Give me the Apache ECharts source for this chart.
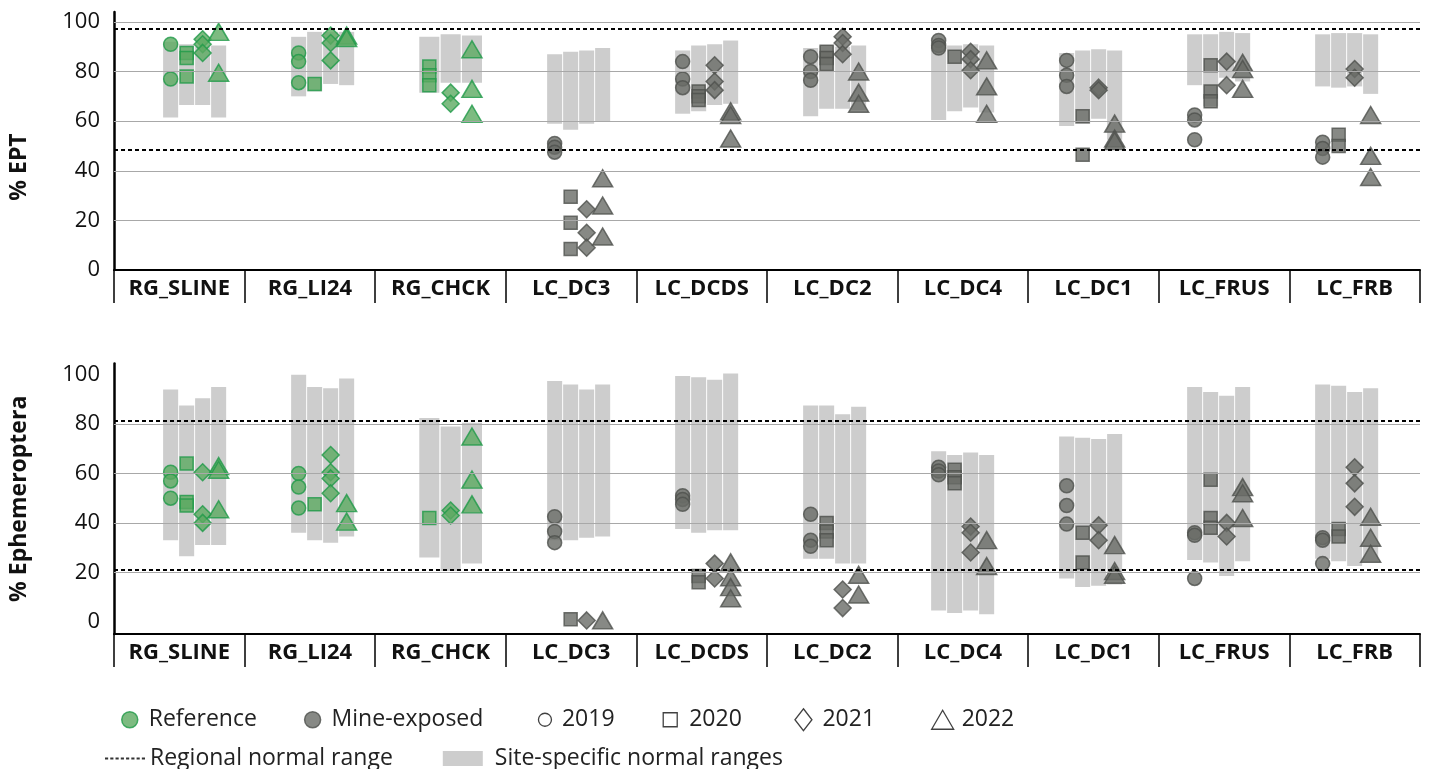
<!DOCTYPE html>
<html>
<head>
<meta charset="utf-8">
<title>% EPT and % Ephemeroptera by site and year</title>
<script src="https://cdn.jsdelivr.net/npm/echarts@6/dist/echarts.min.js"></script>
<style>
  html, body { margin: 0; padding: 0; background: #fff; }
  #chart { width: 1431px; height: 769px; }
</style>
</head>
<body>
<div id="chart"></div>
<script>
// ---- Sites, groups and years ----
const sites = ['RG_SLINE', 'RG_LI24', 'RG_CHCK', 'LC_DC3', 'LC_DCDS', 'LC_DC2', 'LC_DC4', 'LC_DC1', 'LC_FRUS', 'LC_FRB'];
const siteGroup = ['Reference', 'Reference', 'Reference', 'Mine-exposed', 'Mine-exposed',
  'Mine-exposed', 'Mine-exposed', 'Mine-exposed', 'Mine-exposed', 'Mine-exposed'];
const years = ['2019', '2020', '2021', '2022'];
const yTickValues = [0, 20, 40, 60, 80, 100];

// ---- % EPT ----
const eptGridValues = [20, 40, 60, 80, 100];
const eptRegional = [48.5, 97.2];
const ept2019 = [[91, 77], [87.5, 84, 75.5], [], [51, 49.5, 47.5], [84, 77, 73.5], [86, 80, 76.5], [92.5, 90.5, 89.5], [84.5, 78.5, 74], [62.5, 60.5, 52.5], [51.5, 49, 45.5]];
const ept2020 = [[87.5, 85.5, 78], [75], [82, 78.5, 74.5], [29.5, 19, 8.5], [72, 70, 68.5], [88, 85.5, 83], [86], [62, 46.5], [82.5, 72, 68], [54.5, 50]];
const ept2021 = [[93, 91, 87.5], [94.5, 91.5, 84.5], [71.5, 67], [24.5, 15, 9], [82.5, 76, 72.5], [94, 91.5, 87], [88, 85, 80.5], [73.5, 72.5], [84, 74.5], [81, 77.5]];
const ept2022 = [[96, 79.5], [94.5, 93.5], [89, 73, 63], [37, 26, 13.5], [64, 62.5, 53], [80, 71.5, 67], [84.5, 74, 63], [59, 53, 52], [83.5, 81, 73], [62.5, 46, 37.5]];
// site-specific normal ranges [low, high]
const eptRange2019 = [[61.5, 92], [70, 94], null, [59, 87], [63, 88.5], [62, 89.5], [60.5, 90], [58, 87.5], [74.5, 95], [74, 95]];
const eptRange2020 = [[66.5, 91], [72, 96], [71.5, 94], [56.5, 88], [64, 90.5], [65, 90.5], [64, 90.5], [59, 88.5], [66, 95], [73.5, 95.5]];
const eptRange2021 = [[66.5, 90], [75, 96], [75.5, 95], [59, 88.5], [66.5, 91], [65, 90], [65.5, 91], [61, 89], [77.5, 96], [74, 95.5]];
const eptRange2022 = [[61.5, 90.5], [74.5, 96], [75.5, 94.5], [60, 89.5], [67, 92.5], [64.5, 90.5], [63.5, 90.5], [52.5, 88.5], [76, 95.5], [71, 95]];

// ---- % Ephemeroptera ----
const ephGridValues = [20, 40, 60, 80];
const ephRegional = [20.9, 81.5];
const eph2019 = [[60.5, 57, 50], [60, 54.5, 46], [], [42.5, 36.5, 32], [51, 49.5, 47.5], [43.5, 33, 30.5], [62.5, 61, 59.5], [55, 47, 39.5], [36, 35, 17.5], [34, 33, 23.5]];
const eph2020 = [[64, 48.5, 47], [47.5], [42], [1], [18.5, 16], [40, 36.5, 33], [61.5, 58.5, 56], [36, 24], [57.5, 42, 38], [37.5, 34.5]];
const eph2021 = [[60.5, 43.5, 40], [67.5, 60.5, 58, 52], [45, 43], [0.5], [23.5, 17.5], [13, 5.5], [38.5, 36, 28], [39, 33], [40, 34.5], [62.5, 56, 46.5]];
const eph2022 = [[63, 61.5, 45.5], [48, 40.5], [75, 57.5, 47.5], [0.5], [24, 18, 14, 9.5], [19, 11], [33, 22.5], [31, 20.5, 19], [54.5, 52, 42], [42.5, 34, 27.5]];
const ephRange2019 = [[33, 94], [36, 100], null, [33, 97.5], [37.5, 99.5], [25.5, 87.5], [4.5, 69], [17.5, 75], [25, 95], [25.5, 96]];
const ephRange2020 = [[26.5, 87.5], [33, 95], [26, 82.5], [33, 96], [36, 99], [25.5, 87.5], [3.5, 67.5], [14, 74.5], [24, 93], [24.5, 95.5]];
const ephRange2021 = [[31, 90.5], [32, 94.5], [20.5, 79], [34, 94], [37, 98], [23.5, 84], [4.5, 68.5], [14.5, 74], [18.5, 91.5], [22.5, 93]];
const ephRange2022 = [[31, 95], [34.5, 98.5], [23.5, 80.5], [34.5, 96], [37, 100.5], [23.5, 87], [3, 67.5], [15, 76], [24.5, 95], [24.5, 94.5]];

// ---- Styling ----
const FONT = '"Open Sans", "Noto Sans", sans-serif';
const TEXT = '#111';
const FILL = { 'Reference': '#5DAA61', 'Mine-exposed': '#696B67' };
const EDGE = { 'Reference': '#1F9A49', 'Mine-exposed': '#4F514D' };
const RANGE_COLOR = '#CDCDCD';
const GRIDLINE_COLOR = '#A8A8A8';
const YEAR_SYMBOL = {
  '2019': { symbol: 'circle', size: 14 },
  '2020': { symbol: 'rect', size: 13 },
  '2021': { symbol: 'diamond', size: [17, 17] },
  '2022': { symbol: 'triangle', size: [20, 17] }
};
const GROUP_SPAN = 0.5;   // share of a site's slot taken by its year columns
const BAR_FILL = 0.94;    // range bar width relative to its year column

// position of each year's column within a site, from the years that have a range
function yearSlots(siteIdx, ranges) {
  const present = years.map((y, i) => (ranges[i][siteIdx] ? i : -1)).filter(i => i >= 0);
  const n = present.length;
  const slot = GROUP_SPAN / n;
  const out = {};
  present.forEach((yi, k) => { out[yi] = { x: siteIdx + (k - (n - 1) / 2) * slot, w: slot }; });
  return out;
}

function panelSeries(gridIdx, points, ranges, gridValues, regional) {
  const xAxisIndex = gridIdx * 2;
  const yAxisIndex = gridIdx;
  const slotsBySite = sites.map((s, si) => yearSlots(si, ranges));

  const rangeData = [];
  sites.forEach((s, si) => {
    years.forEach((y, yi) => {
      const r = ranges[yi][si];
      if (r) rangeData.push([slotsBySite[si][yi].x, r[0], r[1], slotsBySite[si][yi].w]);
    });
  });

  const series = [
    {
      type: 'scatter', name: 'gridlines', xAxisIndex, yAxisIndex, data: [], z: 1, silent: true,
      markLine: {
        silent: true, symbol: ['none', 'none'], label: { show: false }, animation: false,
        lineStyle: { color: GRIDLINE_COLOR, width: 1.2, type: 'solid' },
        emphasis: { disabled: true },
        data: gridValues.map(v => ({ yAxis: v }))
      }
    },
    {
      type: 'scatter', name: 'Regional normal range', xAxisIndex, yAxisIndex, data: [], z: 2, silent: true,
      markLine: {
        silent: true, symbol: ['none', 'none'], label: { show: false }, animation: false,
        lineStyle: { color: '#000', width: 2, type: [4, 3] },
        emphasis: { disabled: true },
        data: regional.map(v => ({ yAxis: v }))
      }
    },
    {
      type: 'custom', name: 'Site-specific normal ranges', xAxisIndex, yAxisIndex, z: 3, silent: true,
      encode: { x: 0, y: [1, 2] },
      data: rangeData,
      renderItem: (params, api) => {
        const x = api.value(0);
        const top = api.coord([x, api.value(2)]);
        const bot = api.coord([x, api.value(1)]);
        const w = api.size([api.value(3), 0])[0] * BAR_FILL;
        return {
          type: 'rect',
          shape: { x: top[0] - w / 2, y: top[1], width: w, height: bot[1] - top[1] },
          style: { fill: RANGE_COLOR }
        };
      }
    }
  ];

  years.forEach((y, yi) => {
    const data = [];
    sites.forEach((s, si) => {
      const slot = slotsBySite[si][yi];
      if (!slot) return;
      points[yi][si].forEach(v => {
        const g = siteGroup[si];
        data.push({ value: [slot.x, v], itemStyle: { color: FILL[g], borderColor: EDGE[g], borderWidth: 1.5 } });
      });
    });
    series.push({
      type: 'scatter', name: y, xAxisIndex, yAxisIndex, z: 4,
      symbol: YEAR_SYMBOL[y].symbol, symbolSize: YEAR_SYMBOL[y].size,
      emphasis: { disabled: true },
      data
    });
  });
  return series;
}

function valueXAxis(gridIndex) {
  return { gridIndex, type: 'value', min: -0.63, max: 9.573, show: false, position: 'top' };
}
function siteXAxis(gridIndex) {
  return {
    gridIndex, type: 'category', data: sites, position: 'bottom',
    axisLine: { show: true, onZero: false, lineStyle: { color: '#000', width: 2 } },
    axisTick: { show: true, interval: 0, length: 33, lineStyle: { color: '#000', width: 1.5 } },
    axisLabel: { interval: 0, fontSize: 22, fontWeight: 'bold', color: TEXT, margin: 8, fontFamily: FONT },
    splitLine: { show: false }
  };
}
function yAxis(gridIndex, min, max, name, namePad) {
  return {
    gridIndex, type: 'value', min, max,
    axisLine: { show: true, onZero: false, lineStyle: { color: '#000', width: 2.5 } },
    axisTick: { show: false },
    splitLine: { show: false },
    axisLabel: { customValues: yTickValues, fontSize: 22, color: TEXT, margin: 14, fontFamily: FONT },
    name, nameLocation: 'middle', nameGap: 83,
    nameTextStyle: { fontSize: 23, fontWeight: 'bold', color: TEXT, fontFamily: FONT, padding: namePad }
  };
}

// legend icons, drawn inside a common 22x22 frame so their sizes stay distinct
const FRAME = 'M0,0M22,22';
const ICON_DOT_FILLED = 'path://' + FRAME + 'M3,11A8,8,0,1,1,19,11A8,8,0,1,1,3,11Z';
const ICON_CIRCLE = 'path://' + FRAME + 'M4.5,11A6.5,6.5,0,1,1,17.5,11A6.5,6.5,0,1,1,4.5,11Z';
const ICON_SQUARE = 'path://' + FRAME + 'M4,4H18V18H4Z';
const ICON_DIAMOND = 'path://' + FRAME + 'M11,0L19.5,11L11,22L2.5,11Z';
const ICON_TRIANGLE = 'path://' + FRAME + 'M11,1.5L22,20.5L0,20.5Z';
const DOTTED_ICON = 'path://M0,0h3v2h-3z M5,0h3v2h-3z M10,0h3v2h-3z M15,0h3v2h-3z M20,0h3v2h-3z M25,0h3v2h-3z M30,0h3v2h-3z M35,0h3v2h-3z';
const RANGE_ICON = 'path://M0,0h40v15h-40z';
const hollow = { color: '#fff', borderColor: '#111', borderWidth: 1.3 };
const legendText = (padLeft) => ({ padding: [0, 0, 0, padLeft] });
// extra trailing space after some legend entries, in no-break spaces
const legendTrail = { 'Mine-exposed': 1, '2020': 1, '2021': 2 };

const option = {
  animation: false,
  backgroundColor: '#fff',
  textStyle: { fontFamily: FONT },
  grid: [
    { left: 114, right: 11, top: 12, height: 258 },
    { left: 114, right: 11, top: 363.6, height: 270.4 }
  ],
  xAxis: [valueXAxis(0), siteXAxis(0), valueXAxis(1), siteXAxis(1)],
  yAxis: [
    yAxis(0, 0, 104, '% EPT', [0, 52, 0, 0]),
    yAxis(1, -5, 104.5, '% Ephemeroptera', [0, 0, 0, 0])
  ],
  legend: [
    {
      left: 113, top: 703, itemWidth: 24, itemHeight: 22, itemGap: 44, selectedMode: false,
      textStyle: { fontSize: 23, color: '#222', fontFamily: FONT },
      formatter: name => name + '\u00a0'.repeat(legendTrail[name] || 0),
      data: [
        { name: 'Reference', icon: ICON_DOT_FILLED, textStyle: legendText(2), itemStyle: { color: FILL['Reference'], borderColor: EDGE['Reference'], borderWidth: 1.5 } },
        { name: 'Mine-exposed', icon: ICON_DOT_FILLED, textStyle: legendText(2), itemStyle: { color: FILL['Mine-exposed'], borderColor: EDGE['Mine-exposed'], borderWidth: 1.5 } },
        { name: '2019', icon: ICON_CIRCLE, textStyle: legendText(0), itemStyle: hollow },
        { name: '2020', icon: ICON_SQUARE, textStyle: legendText(2), itemStyle: hollow },
        { name: '2021', icon: ICON_DIAMOND, textStyle: legendText(2), itemStyle: hollow },
        { name: '2022', icon: ICON_TRIANGLE, textStyle: legendText(2), itemStyle: hollow }
      ]
    },
    {
      left: 100, top: 742, itemWidth: 40, itemHeight: 16, itemGap: 50, selectedMode: false,
      textStyle: { fontSize: 23, color: '#222', fontFamily: FONT },
      data: [
        { name: 'Regional normal range', icon: DOTTED_ICON, itemStyle: { color: '#000' } },
        { name: 'Site-specific normal ranges', icon: RANGE_ICON, textStyle: legendText(7), itemStyle: { color: RANGE_COLOR } }
      ]
    }
  ],
  series: [
    ...panelSeries(0, [ept2019, ept2020, ept2021, ept2022], [eptRange2019, eptRange2020, eptRange2021, eptRange2022], eptGridValues, eptRegional),
    ...panelSeries(1, [eph2019, eph2020, eph2021, eph2022], [ephRange2019, ephRange2020, ephRange2021, ephRange2022], ephGridValues, ephRegional),
    { type: 'scatter', name: 'Reference', xAxisIndex: 0, yAxisIndex: 0, data: [] },
    { type: 'scatter', name: 'Mine-exposed', xAxisIndex: 0, yAxisIndex: 0, data: [] }
  ]
};

const chart = echarts.init(document.getElementById('chart'));
chart.setOption(option);
</script>
</body>
</html>
